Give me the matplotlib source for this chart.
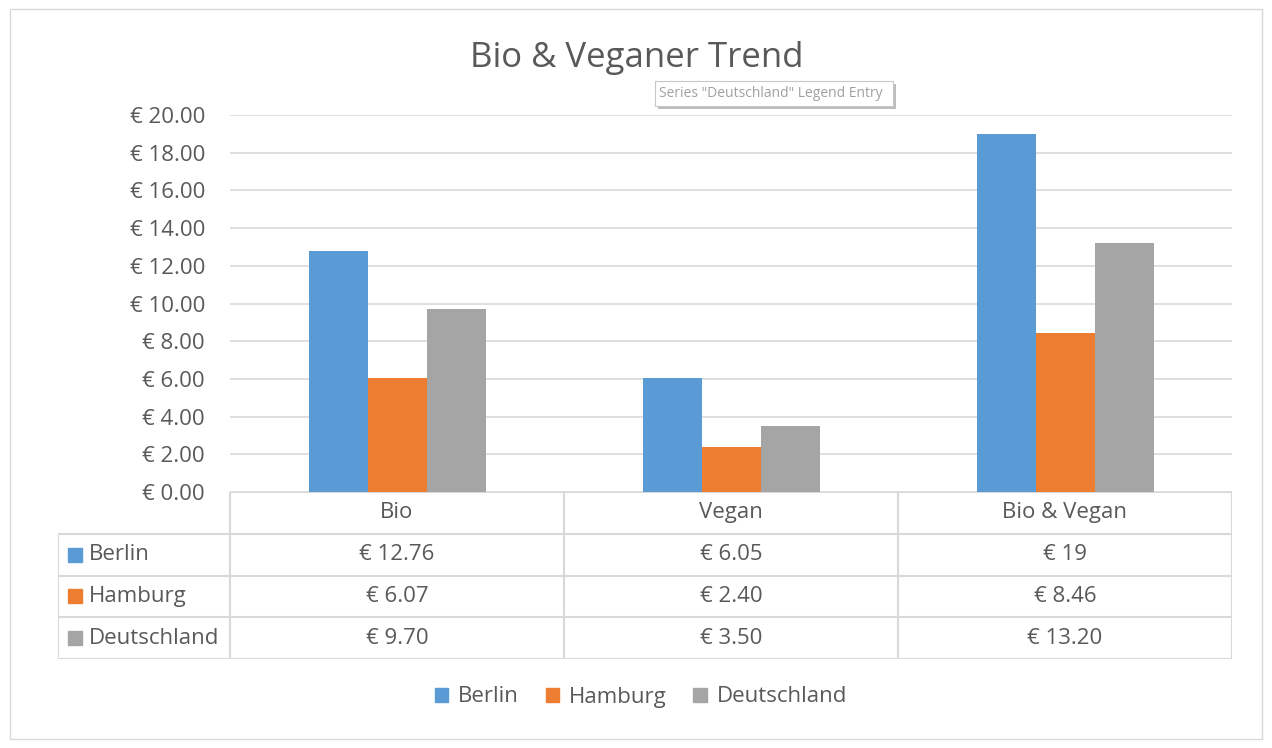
import matplotlib
matplotlib.use("Agg")
import matplotlib.pyplot as plt
from matplotlib.patches import Patch, Rectangle


plt.rcParams["font.family"] = ["Open Sans", "DejaVu Sans"]

categories = ["Bio", "Vegan", "Bio & Vegan"]
series_names = ["Berlin", "Hamburg", "Deutschland"]
berlin = [12.76, 6.05, 19]
hamburg = [6.07, 2.40, 8.46]
deutschland = [9.70, 3.50, 13.20]
yticks = [0, 2, 4, 6, 8, 10, 12, 14, 16, 18, 20]

colors = ["#5B9BD5", "#ED7D31", "#A5A5A5"]
text_c = "#595959"
grid_c = "#D9D9D9"

W, H = 1272, 748
FS = 16


def fmt(v):
    if isinstance(v, int):
        return f"€ {v}"
    return f"€ {v:.2f}"


fig = plt.figure(figsize=(W / 100, H / 100), dpi=100)
fig.patch.set_facecolor("white")

# outer chart border
fig.add_artist(Rectangle((10 / W, 1 - 739 / H), 1252 / W, 730 / H, transform=fig.transFigure,
                         fill=False, ec=grid_c, lw=1))

# plot area
ax = fig.add_axes([230 / W, 1 - 492 / H, 1002 / W, 377 / H])
all_vals = [berlin, hamburg, deutschland]
bw = 59 / 334
for i, vals in enumerate(all_vals):
    xs = [c + (i - 1) * bw for c in range(len(categories))]
    ax.bar(xs, vals, width=bw, color=colors[i], zorder=3)
ax.set_xlim(-0.5, 2.5)
ax.set_ylim(0, 20)
ax.set_yticks(yticks)
ax.set_yticklabels([f"€ {t:.2f}" for t in yticks])
ax.set_xticks([])
ax.grid(axis="y", color=grid_c, lw=1.2, zorder=0)
for s in ax.spines.values():
    s.set_visible(False)
ax.tick_params(axis="y", length=0, pad=18, labelsize=FS, labelcolor=text_c)

# data table
left_u = -0.5 - 172 / 334
tab = fig.add_axes([58 / W, 1 - 659 / H, 1174 / W, 167 / H])
tab.set_xlim(left_u, 2.5)
tab.set_ylim(4, 0)
tab.axis("off")
lk = dict(color=grid_c, lw=1.5, solid_capstyle="butt")
tab.plot([-0.5, 2.5], [0, 0], **lk)
for r in range(1, 5):
    tab.plot([left_u, 2.5], [r, r], **lk)
tab.plot([left_u, left_u], [1, 4], **lk)
for xv in [-0.5, 0.5, 1.5, 2.5]:
    tab.plot([xv, xv], [0, 4], **lk)
for c, name in enumerate(categories):
    tab.text(c, 0.5, name, ha="center", va="center", fontsize=FS, color=text_c)
for i, vals in enumerate(all_vals):
    y = i + 1.5
    tab.add_patch(Rectangle((left_u + 10 / 334, y - 0.17), 14 / 334, 0.34,
                            color=colors[i], clip_on=False))
    tab.text(left_u + 31 / 334, y, series_names[i], ha="left", va="center",
             fontsize=FS, color=text_c)
    for c, v in enumerate(vals):
        tab.text(c, y, fmt(v), ha="center", va="center", fontsize=FS, color=text_c)

# title
fig.text(637 / W, 1 - 58 / H, "Bio & Veganer Trend", ha="center", va="center",
         fontsize=25, color=text_c)

# legend
handles = [Patch(color=colors[i], label=series_names[i]) for i in range(3)]
fig.legend(handles=handles, loc="center", bbox_to_anchor=(641 / W, 1 - 697 / H), ncol=3,
           frameon=False, fontsize=FS, labelcolor=text_c, handlelength=0.6,
           handleheight=0.6, handletextpad=0.45, columnspacing=1.2)

# hover tooltip from the screenshot
fig.add_artist(Rectangle((658 / W, 1 - 109 / H), 238 / W, 25 / H, transform=fig.transFigure,
                         fc="#BDBDBD", ec="none"))
fig.add_artist(Rectangle((655 / W, 1 - 106 / H), 238 / W, 25 / H, transform=fig.transFigure,
                         fc="white", ec="#C8C8C8", lw=0.8))
fig.text(659 / W, 1 - 93.5 / H, 'Series "Deutschland" Legend Entry', ha="left", va="center",
         fontsize=10, color="#A0A0A0")

fig.savefig("out.png", dpi=100)
